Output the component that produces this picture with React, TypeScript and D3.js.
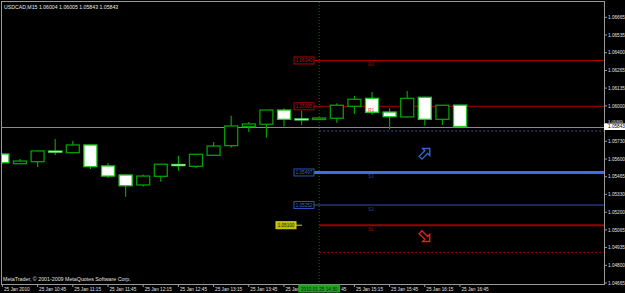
import React from "react";
import * as d3 from "d3";

// ---- data ----
const times = ["10:15","10:30","10:45","11:00","11:15","11:30","11:45","12:00","12:15","12:30","12:45","13:00","13:15","13:30","13:45","14:00","14:15","14:30","14:45","15:00","15:15","15:30","15:45","16:00","16:15","16:30","16:45"];
const opens = [1.05636,1.05563,1.05578,1.05653,1.05646,1.05704,1.05546,1.05478,1.05403,1.05468,1.05553,1.05543,1.05626,1.05699,1.05842,1.05860,1.05967,1.05897,1.05897,1.05905,1.05995,1.06055,1.05952,1.05915,1.06063,1.05897,1.06004];
const highs = [1.05644,1.05598,1.05666,1.05749,1.05734,1.05708,1.05568,1.05482,1.05482,1.05561,1.05623,1.05634,1.05726,1.05924,1.05877,1.05971,1.05980,1.05962,1.05911,1.06018,1.06073,1.06103,1.05980,1.06110,1.06067,1.06005,1.06005];
const lows = [1.05561,1.05561,1.05538,1.05629,1.05644,1.05523,1.05455,1.05315,1.05391,1.05428,1.05510,1.05531,1.05625,1.05684,1.05802,1.05759,1.05843,1.05854,1.05892,1.05872,1.05937,1.05932,1.05822,1.05911,1.05849,1.05854,1.05843];
const closes = [1.05571,1.05583,1.05659,1.05653,1.05704,1.05541,1.05470,1.05397,1.05470,1.05559,1.05553,1.05634,1.05696,1.05847,1.05862,1.05967,1.05897,1.05897,1.05907,1.06003,1.06048,1.05950,1.05917,1.06055,1.05897,1.06003,1.05843];

const tickTimes = ["10:15","10:45","11:15","11:45","12:15","12:45","13:15","13:45","14:15","14:45","15:15","15:45","16:15","16:45"];
// labels partly covered by the time highlight box show only their visible part
const tickTimeLabels = ["25 Jan 2010","25 Jan 10:45","25 Jan 11:15","25 Jan 11:45","25 Jan 12:15","25 Jan 12:45","25 Jan 13:15","25 Jan 13:45","25 Jan","45","25 Jan 15:15","25 Jan 15:45","25 Jan 16:15","25 Jan 16:45"];

const priceTicks = [1.06665,1.06532,1.06398,1.06265,1.06132,1.05998,1.05865,1.05732,1.05598,1.05465,1.05332,1.05198,1.05065,1.04932,1.04798,1.04665];
const priceTickLabels = ["1.06665","1.06535","1.06400","1.06265","1.06135","1.06000","1.05865","1.05730","1.05600","1.05465","1.05330","1.05200","1.05065","1.04935","1.04800","1.04665"];

const levelNames = ["R2","R1","S1","S2","SL"];
const levelValues = [1.06340,1.05995,1.05497,1.05252,1.05100];
const levelLabels = ["1.06340","1.05995","1.05497","1.05252","1.05100"];

const bidPrice = 1.05843;
const bidLabel = "1.05843";
const askDotted = 1.05809;
const lowerDotted = 1.04896;
const markerTime = "14:45";
const markerLabel = "2010.01.25 14:30";
const arrowTimes = ["16:15","16:15"];
const arrowPrices = [1.05640,1.05015];
const arrowDirs = ["up","down"];
const header = "USDCAD,M15  1.06004 1.06005 1.05843 1.05843";
const copyright = "MetaTrader, \u00A9 2001-2009 MetaQuotes Software Corp.";

// ---- layout ----
const W = 625, H = 293;
const L = 2, T = 2, R = 604, B = 284;
const FONT = "'Liberation Sans', Arial, sans-serif";

const levelStyles = [
  { color: "#b00000", width: 1, box: "#b00000", text: "#c01010", boxX: 294, fill: "none", tfill: "#c01010" },
  { color: "#b00000", width: 1, box: "#b00000", text: "#c01010", boxX: 294, fill: "none", tfill: "#c01010" },
  { color: "#3c70e0", width: 3, box: "#3050b0", text: "#3050b0", boxX: 294, fill: "none", tfill: "#4060c0" },
  { color: "#3050b0", width: 1, box: "#3050b0", text: "#3050b0", boxX: 294, fill: "none", tfill: "#4060c0" },
  { color: "#9a0000", width: 2, box: "#d8d800", text: "#c01010", boxX: 276, fill: "#b8b800", tfill: "#2a2a00" },
];

export default function App() {
  const x = d3.scalePoint<string>().domain(times).range([2.4, 460]);
  const y = d3.scaleLinear().domain([1.04665, 1.06665]).range([283, 17.3]);
  const bw = 14;
  const vx = x(markerTime)!;
  const hbL = vx - 21, hbR = vx + 21;
  const bidY = y(bidPrice);

  const arrowPath = "M0,-7 L5,-2 L2,-2 L2,6 L-2,6 L-2,-2 L-5,-2 Z";

  return (
    <svg width={W} height={H} style={{ position: "absolute", left: 0, top: 0, background: "#000" }}>
      <defs>
        <clipPath id="plot"><rect x={L} y={T} width={R - L} height={B - T} /></clipPath>
      </defs>
      <rect x={0} y={0} width={W} height={H} fill="#000" />

      <g clipPath="url(#plot)">
        <line x1={vx} x2={vx} y1={T} y2={B} stroke="#1a6a1a" strokeWidth={1} strokeDasharray="1,2" />
        <line x1={L} x2={R} y1={Math.round(bidY) + 0.5} y2={Math.round(bidY) + 0.5} stroke="#8a8a8a" strokeWidth={1} />
        <line x1={vx} x2={R} y1={y(askDotted)} y2={y(askDotted)} stroke="#34509a" strokeWidth={1} strokeDasharray="2,2" />
        <line x1={vx} x2={R} y1={y(lowerDotted)} y2={y(lowerDotted)} stroke="#c00000" strokeWidth={1} strokeDasharray="2,2" />

        {levelValues.map((v, i) => {
          const s = levelStyles[i];
          const ly = y(v);
          const startX = i === 4 ? vx : 314;
          return (
            <g key={"lv" + i}>
              <line x1={startX} x2={R} y1={ly} y2={ly} stroke={s.color} strokeWidth={s.width} />
              {i === 4 && <line x1={s.boxX + 20} x2={s.boxX + 26} y1={ly} y2={ly} stroke="#d8d800" strokeWidth={1} />}
            </g>
          );
        })}

        {times.map((t, i) => {
          const cx = x(t)!;
          const o = opens[i], c = closes[i];
          const bull = c > o, doji = c === o;
          const top = y(Math.max(o, c)), bot = y(Math.min(o, c));
          return (
            <g key={t}>
              <line x1={cx} x2={cx} y1={y(highs[i])} y2={y(lows[i])} stroke="#00a000" strokeWidth={1.2} />
              {doji ? (
                <rect x={cx - bw / 2} y={top - 1} width={bw} height={2} fill="#9cf59c" stroke="#20b020" strokeWidth={0.5} />
              ) : bull ? (
                <rect x={cx - bw / 2 + 0.5} y={top} width={bw - 1} height={Math.max(bot - top, 1.5)} fill="#000" stroke="#00a000" strokeWidth={1.3} />
              ) : (
                <rect x={cx - bw / 2 + 0.5} y={top} width={bw - 1} height={Math.max(bot - top, 1.5)} fill="#fff" stroke="#22c822" strokeWidth={1.3} />
              )}
            </g>
          );
        })}

        {levelValues.map((v, i) => {
          const s = levelStyles[i];
          const ly = y(v);
          return (
            <g key={"lb" + i}>
              <rect x={s.boxX} y={ly - 3.5} width={20} height={7} fill={s.fill === "none" ? "#000" : s.fill} stroke={s.box} strokeWidth={1} />
              <text x={s.boxX + 10} y={ly + 1.7} textAnchor="middle" fontFamily={FONT} fontSize={4.6} fill={s.tfill}>{levelLabels[i]}</text>
              <text x={368} y={ly + 5.5} fontFamily={FONT} fontSize={5} fontWeight="bold" fill={s.text} fillOpacity={0.6}>{levelNames[i]}</text>
            </g>
          );
        })}

        {arrowPrices.map((p, i) => (
          <path key={"ar" + i} d={arrowPath}
            transform={`translate(${x(arrowTimes[i])},${y(p)}) rotate(${arrowDirs[i] === "up" ? 45 : 135})`}
            fill="none" stroke={arrowDirs[i] === "up" ? "#3464c8" : "#d82020"} strokeWidth={1.4} />
        ))}

        <text x={4} y={9} fontFamily={FONT} fontSize={5.2} fill="#e8e8e8">{header}</text>
        <text x={3} y={280.5} fontFamily={FONT} fontSize={5.3} fill="#e0e0e0">{copyright}</text>
      </g>

      <rect x={L - 0.5} y={T - 0.5} width={R - L + 1} height={B - T + 1} fill="none" stroke="#9a9a9a" strokeWidth={1} />

      {/* price axis */}
      {priceTicks.map((p, i) => {
        const near = Math.abs(y(p) - bidY) < 6;
        const ty = near ? bidY - 3.6 : y(p) + 1.7;
        return (
          <g key={"pt" + i}>
            <line x1={R} x2={R + 3} y1={y(p)} y2={y(p)} stroke="#9a9a9a" />
            <text x={608} y={ty} fontFamily={FONT} fontSize={near ? 4.2 : 4.7} fill="#e0e0e0">{priceTickLabels[i]}</text>
          </g>
        );
      })}
      <rect x={R} y={bidY - 3} width={21} height={6.5} fill="#fff" />
      <text x={608} y={bidY + 1.8} fontFamily={FONT} fontSize={4.7} fill="#000">{bidLabel}</text>

      {/* time axis */}
      {tickTimes.map((t, i) => {
        const tx = x(t)!;
        const covered = tx >= hbL && tx <= hbR;
        return (
          <g key={"tt" + i}>
            <line x1={tx} x2={tx} y1={B} y2={B + 3} stroke="#9a9a9a" />
            <text x={covered ? hbR + 1 : tx + 1.5} y={290.5} fontFamily={FONT} fontSize={4.7} fill="#e0e0e0">{tickTimeLabels[i]}</text>
          </g>
        );
      })}
      <rect x={hbL} y={B + 0.5} width={hbR - hbL} height={8} fill="#22a022" />
      <text x={vx} y={290.5} textAnchor="middle" fontFamily={FONT} fontSize={4.7} fill="#062806">{markerLabel}</text>
    </svg>
  );
}
